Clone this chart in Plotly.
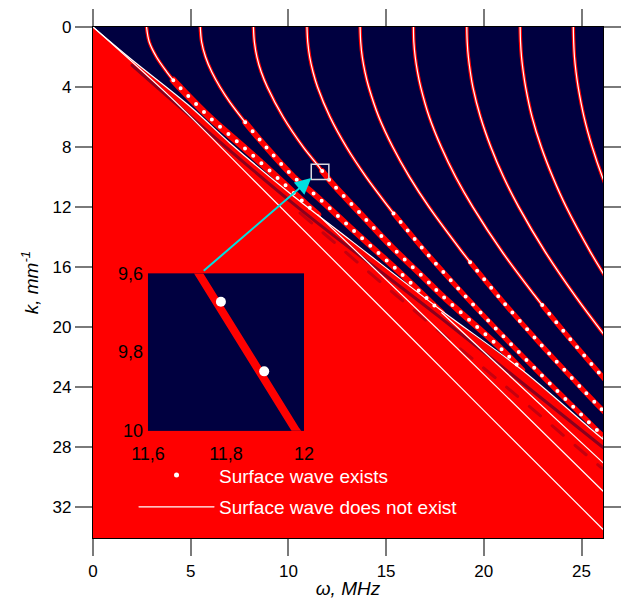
import plotly.graph_objects as go

NAVY = "#000040"
RED = "#ff0000"
CYAN = "#00e0e0"

# ---------------- axes ----------------
w_range = [0, 26.1]
k_range = [34.05, 0]
x_ticks = [0, 5, 10, 15, 20, 25]
y_ticks = [0, 4, 8, 12, 16, 20, 24, 28, 32]

# ---------------- boundary of the red (bulk) region ----------------
bound_w = [0, 1.91, 5.0, 7.03, 10.09, 13.17, 17.76, 21.96, 26.04, 26.6]
bound_k = [0, 2.10, 5.33, 7.76, 11.09, 14.20, 18.82, 22.86, 27.40, 27.95]

# light line inside the red region
light_w = [0, 3.95, 8.22, 15.89, 26.04, 26.6]
light_k = [0, 4.66, 10.21, 20.19, 33.40, 34.1]

# dark stripes inside the red region
stripe1_w = [2.0, 10.09, 17.76, 26.04, 26.6]
stripe1_k = [2.55, 11.6, 19.35, 27.95, 28.5]
stripe2_w = [10.6, 15.9, 21.35, 26.04]
stripe2_k = [12.4, 18.3, 24.2, 29.4]

# ---------------- modes (solid = no surface wave, dots = surface wave) ----------------
mode1_line_w = [2.74, 2.88, 3.25, 3.78, 4.11]
mode1_line_k = [0, 1, 2, 3, 3.55]
mode1_dots_w = [4.11, 4.43, 5.95, 7.7, 9.4, 11.05, 11.5]
mode1_dots_k = [3.55, 4, 6, 8, 10, 12, 12.5]
mode1_red_w = [11.5, 17.68, 26.04, 26.6]
mode1_red_k = [12.5, 20.19, 30.85, 31.55]

mode2_line_w = [5.49, 5.56, 5.76, 6.08, 6.50, 7.00, 7.79]
mode2_line_k = [0, 1, 2, 3, 4, 5, 6.35]
mode2_dots_w = [7.79, 8.86, 10.28, 11.28, 13.47, 15.72, 17.85]
mode2_dots_k = [6.35, 8.0, 10.0, 11.09, 13.72, 16.38, 19.04]
mode2_red_w = [17.85, 26.04, 26.6]
mode2_red_k = [19.04, 28.96, 29.64]

mode3_line_w = [8.21, 8.26, 8.39, 8.61, 8.92, 9.73, 10.76, 11.50, 11.73]
mode3_line_k = [0, 1, 2, 3, 4, 6, 8, 9.2, 9.6]
mode3_dots_w = [11.73, 11.98, 12.26, 13.71, 15.29, 16.95, 17.80, 19.55, 20.92, 21.96]
mode3_dots_k = [9.6, 10.0, 10.45, 12.47, 14.65, 16.73, 17.82, 19.86, 21.48, 22.86]

mode4_line_w = [10.95, 10.99, 11.09, 11.26, 11.49, 12.13, 12.97, 13.98, 15.13, 15.38]
mode4_line_k = [0, 1, 2, 3, 4, 6, 8, 10, 12, 12.42]
mode4_dots_w = [15.38, 17.03, 19.10, 21.29, 23.57, 25.90, 26.70]
mode4_dots_k = [12.42, 15, 18, 21, 24, 27, 28]

mode5_line_w = [13.67, 13.70, 13.78, 13.92, 14.11, 14.63, 15.34, 16.20, 17.20, 18.90, 19.30]
mode5_line_k = [0, 1, 2, 3, 4, 6, 8, 10, 12, 15, 15.67]
mode5_dots_w = [19.30, 20.78, 22.81, 24.95, 26.42]
mode5_dots_k = [15.67, 18, 21, 24, 26]

mode6_line_w = [16.40, 16.42, 16.49, 16.61, 16.77, 17.21, 17.82, 18.56, 19.44, 20.95, 22.67, 22.99]
mode6_line_k = [0, 1, 2, 3, 4, 6, 8, 10, 12, 15, 18, 18.53]
mode6_dots_w = [22.99, 24.55, 26.54]
mode6_dots_k = [18.53, 21, 24]

mode7_w = [19.13, 19.15, 19.21, 19.31, 19.44, 19.83, 20.36, 21.01, 21.79, 23.15, 24.72, 26.45]
mode7_k = [0, 1, 2, 3, 4, 6, 8, 10, 12, 15, 18, 21]

mode8_w = [21.86, 21.88, 21.93, 22.02, 22.14, 22.47, 22.94, 23.53, 24.22, 25.46, 26.39]
mode8_k = [0, 1, 2, 3, 4, 6, 8, 10, 12, 15, 17]

mode9_w = [24.58, 24.60, 24.64, 24.72, 24.83, 25.13, 25.55, 26.07, 26.38]
mode9_k = [0, 1, 2, 3, 4, 6, 8, 10, 11]

# ---------------- zoomed inset ----------------
inset_w_range = [11.6, 12.0]
inset_k_range = [10.0, 9.6]
inset_w_ticks = [11.6, 11.8, 12.0]
inset_w_labels = ["11,6", "11,8", "12"]
inset_k_ticks = [9.6, 9.8, 10.0]
inset_k_labels = ["9,6", "9,8", "10"]
inset_dots_w = [11.787, 11.898]
inset_dots_k = [9.672, 9.849]

zoom_box_w = [11.17, 12.07]
zoom_box_k = [9.14, 10.16]
arrow_tail = (5.59, 16.33)
arrow_head = (11.17, 10.07)

FONT = "Liberation Sans, Arial, sans-serif"

fig = go.Figure()

# red bulk region
fig.add_trace(go.Scatter(x=bound_w + [bound_w[-1], 0], y=bound_k + [36, 36],
                         fill="toself", fillcolor=RED, mode="none",
                         hoverinfo="skip", showlegend=False))

# dark stripes
fig.add_trace(go.Scatter(x=stripe1_w, y=stripe1_k, mode="lines",
                         line=dict(color=NAVY, width=3, shape="spline"),
                         opacity=0.45, hoverinfo="skip", showlegend=False))
fig.add_trace(go.Scatter(x=stripe2_w, y=stripe2_k, mode="lines",
                         line=dict(color=NAVY, width=3, dash="longdash", shape="spline"),
                         opacity=0.22, hoverinfo="skip", showlegend=False))

solid_sets = [
    (mode1_line_w, mode1_line_k), (mode2_line_w, mode2_line_k),
    (mode3_line_w, mode3_line_k), (mode4_line_w, mode4_line_k),
    (mode5_line_w, mode5_line_k), (mode6_line_w, mode6_line_k),
    (mode7_w, mode7_k), (mode8_w, mode8_k), (mode9_w, mode9_k),
]
dot_sets = [
    (mode1_dots_w, mode1_dots_k, 7), (mode2_dots_w, mode2_dots_k, 6),
    (mode3_dots_w, mode3_dots_k, 6), (mode4_dots_w, mode4_dots_k, 5),
    (mode5_dots_w, mode5_dots_k, 5), (mode6_dots_w, mode6_dots_k, 5),
]
red_sets = [(mode1_red_w, mode1_red_k), (mode2_red_w, mode2_red_k),
            (light_w, light_k), (bound_w, bound_k)]

# red glows
for xs, ys in solid_sets:
    fig.add_trace(go.Scatter(x=xs, y=ys, mode="lines",
                             line=dict(color=RED, width=3.5, shape="spline"),
                             hoverinfo="skip", showlegend=False))
for xs, ys, wd in dot_sets:
    fig.add_trace(go.Scatter(x=xs, y=ys, mode="lines",
                             line=dict(color=RED, width=wd, shape="spline"),
                             hoverinfo="skip", showlegend=False))

# white solid lines
for xs, ys in solid_sets + red_sets:
    fig.add_trace(go.Scatter(x=xs, y=ys, mode="lines",
                             line=dict(color="white", width=1.2, shape="spline"),
                             hoverinfo="skip", showlegend=False))
# white dots
for xs, ys, wd in dot_sets:
    fig.add_trace(go.Scatter(x=xs, y=ys, mode="lines",
                             line=dict(color="white", width=4, dash="0px,11px", shape="spline"),
                             hoverinfo="skip", showlegend=False))

# legend entries
fig.add_trace(go.Scatter(x=[None], y=[None], mode="markers", name="Surface wave exists",
                         marker=dict(color="white", size=5), legendgroup="a"))
fig.add_trace(go.Scatter(x=[None], y=[None], mode="lines", name="Surface wave does not exist",
                         line=dict(color="white", width=1.2), legendgroup="b"))

# inset
fig.add_trace(go.Scatter(x=[inset_w_range[0], inset_w_range[1], inset_w_range[1], inset_w_range[0]],
                         y=[inset_k_range[1], inset_k_range[1], inset_k_range[0], inset_k_range[0]],
                         fill="toself", fillcolor=NAVY, mode="none", xaxis="x2", yaxis="y2",
                         hoverinfo="skip", showlegend=False))
fig.add_trace(go.Scatter(x=mode3_line_w + mode3_dots_w, y=mode3_line_k + mode3_dots_k,
                         mode="lines", line=dict(color=RED, width=8),
                         xaxis="x2", yaxis="y2", hoverinfo="skip", showlegend=False))
fig.add_trace(go.Scatter(x=inset_dots_w, y=inset_dots_k, mode="markers",
                         marker=dict(color="white", size=10),
                         xaxis="x2", yaxis="y2", hoverinfo="skip", showlegend=False))

axis_common = dict(ticks="outside", ticklen=17, tickwidth=1.5, tickcolor="#7a7a7a",
                   showline=True, linecolor="#000000", linewidth=1.2, mirror="ticks",
                   showgrid=False, zeroline=False, automargin=False,
                   tickfont=dict(family=FONT, size=17, color="black"))

fig.update_layout(
    width=625, height=599,
    margin=dict(l=93, r=22, t=27, b=61, autoexpand=False),
    paper_bgcolor="white", plot_bgcolor=NAVY,
    font=dict(family=FONT, color="black"),
    xaxis=dict(range=w_range, tickvals=x_ticks, domain=[0, 1],
               title=dict(text="<i>ω, MHz</i>", font=dict(size=19), standoff=0),
               **axis_common),
    yaxis=dict(range=k_range, tickvals=y_ticks, domain=[0, 1],
               title=dict(text="<i>k, mm<sup>-1</sup></i>", font=dict(size=19), standoff=8),
               **axis_common),
    xaxis2=dict(domain=[0.1078, 0.4137], anchor="y2", range=inset_w_range,
                tickvals=inset_w_ticks, ticktext=inset_w_labels, ticks="",
                showline=False, showgrid=False, zeroline=False, ticklabelstandoff=10,
                automargin=False,
                tickfont=dict(family=FONT, size=18, color="black")),
    yaxis2=dict(domain=[0.2099, 0.5177], anchor="x2", range=inset_k_range,
                tickvals=inset_k_ticks, ticktext=inset_k_labels, ticks="",
                showline=False, showgrid=False, zeroline=False, ticklabelstandoff=4,
                automargin=False,
                tickfont=dict(family=FONT, size=18, color="black")),
    legend=dict(x=0.0804, y=0.16, xanchor="left", yanchor="top", itemwidth=75,
                bgcolor="rgba(0,0,0,0)", font=dict(family=FONT, size=19, color="white"),
                tracegroupgap=4, traceorder="grouped"),
    shapes=[dict(type="rect", xref="x", yref="y",
                 x0=zoom_box_w[0], x1=zoom_box_w[1], y0=zoom_box_k[0], y1=zoom_box_k[1],
                 line=dict(color="#d8d8e0", width=1.5))],
    annotations=[dict(x=arrow_head[0], y=arrow_head[1], ax=arrow_tail[0], ay=arrow_tail[1],
                      xref="x", yref="y", axref="x", ayref="y", text="", showarrow=True,
                      arrowhead=2, arrowsize=1.6, arrowwidth=2, arrowcolor=CYAN)],
)

post = ("document.body.style.margin='0';"
        "var s=document.createElement('style');"
        "s.textContent='body{margin:0}.js-line{stroke-linecap:round;}';"
        "document.head.appendChild(s);")
fig.write_html("out.html", post_script=post, config={"displayModeBar": False})
